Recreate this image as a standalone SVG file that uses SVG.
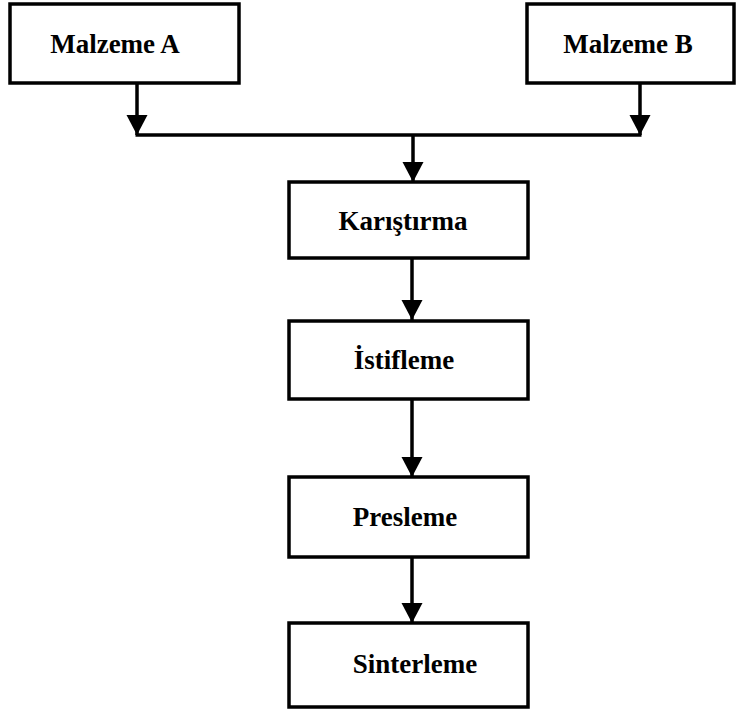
<svg xmlns="http://www.w3.org/2000/svg" width="737" height="711" viewBox="0 0 737 711">
<style>
.box{fill:#fff;stroke:#000;stroke-width:3.5}
.lbl{font-family:"Liberation Serif","Times New Roman",serif;font-weight:bold;font-size:27px;fill:#000;text-anchor:middle}
.con{fill:none;stroke:#000;stroke-width:3.5}
</style>
<defs>
<marker id="ah" markerUnits="userSpaceOnUse" markerWidth="22" markerHeight="22" viewBox="0 0 22 22" refX="20" refY="11" orient="auto">
<path d="M0,0.5 L20,11 L0,21.5 Z" fill="#000"/>
</marker>
</defs>
<g id="connectors">
<line class="con" x1="137" y1="83" x2="137" y2="135" marker-end="url(#ah)"/>
<line class="con" x1="640" y1="83" x2="640" y2="135" marker-end="url(#ah)"/>
<line class="con" x1="135.5" y1="135" x2="641.5" y2="135"/>
<line class="con" x1="413" y1="135" x2="413" y2="182" marker-end="url(#ah)"/>
<line class="con" x1="412" y1="258" x2="412" y2="320" marker-end="url(#ah)"/>
<line class="con" x1="412" y1="399" x2="412" y2="477" marker-end="url(#ah)"/>
<line class="con" x1="412" y1="557" x2="412" y2="623" marker-end="url(#ah)"/>
</g>
<g id="malzemeA">
<rect class="box" x="10" y="4" width="229" height="79"/>
<text class="lbl" x="115" y="53">Malzeme A</text>
</g>
<g id="malzemeB">
<rect class="box" x="527" y="4" width="207" height="79"/>
<text class="lbl" x="628" y="53">Malzeme B</text>
</g>
<g id="karistirma">
<rect class="box" x="289" y="182" width="239" height="76"/>
<text class="lbl" x="403" y="230">Karıştırma</text>
</g>
<g id="istifleme">
<rect class="box" x="289" y="321" width="239" height="78"/>
<text class="lbl" x="404" y="369">İstifleme</text>
</g>
<g id="presleme">
<rect class="box" x="289" y="477" width="239" height="80"/>
<text class="lbl" x="405" y="526">Presleme</text>
</g>
<g id="sinterleme">
<rect class="box" x="289" y="623" width="239" height="84"/>
<text class="lbl" x="415" y="673">Sinterleme</text>
</g>
</svg>
